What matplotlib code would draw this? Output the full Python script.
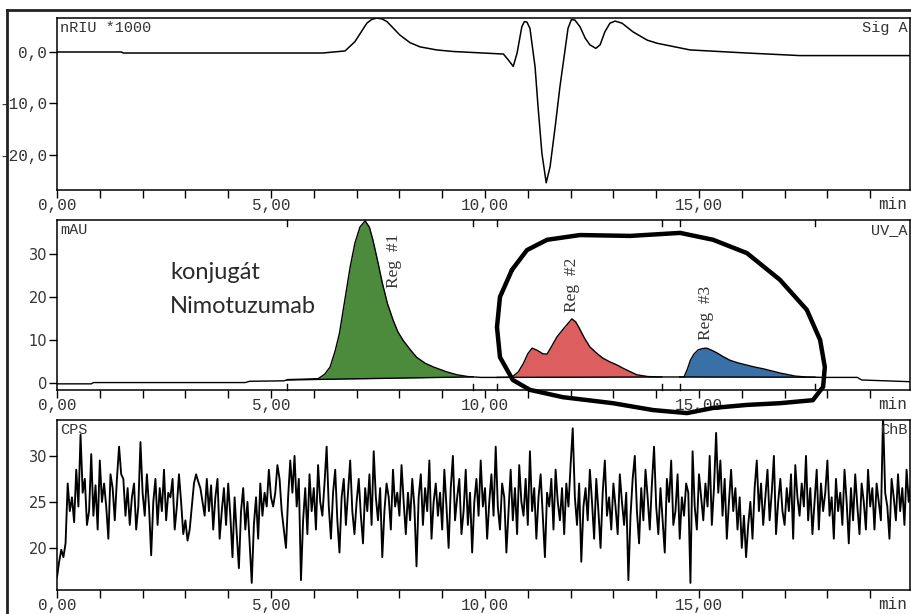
import numpy as np
import matplotlib
matplotlib.use("Agg")
import matplotlib.pyplot as plt
from matplotlib.lines import Line2D
from matplotlib.ticker import MultipleLocator
import matplotlib.transforms as mtransforms

# refractive index detector (min, nRIU*1000)
ri_time = [0.0, 1.5, 1.55, 4.0, 6.2, 6.73, 6.96, 7.24, 7.35, 7.47, 7.6, 7.71, 8.01, 8.25, 8.48,
           8.87, 9.25, 9.72, 10.43, 10.55, 10.66, 10.75, 10.86, 10.92, 10.98, 11.05, 11.17,
           11.24, 11.33, 11.43, 11.52, 11.64, 11.75, 11.87, 11.94, 12.02, 12.1, 12.22,
           12.34, 12.45, 12.59, 12.69, 12.8, 12.92, 13.04, 13.2, 13.46, 13.79, 14.02,
           14.79, 16.12, 17.36, 19.93]
ri_signal = [0.0, 0.0, -0.2, -0.2, -0.2, 0.2, 2.0, 5.6, 6.3, 6.6, 6.4, 5.9, 3.3, 1.8, 1.0,
             0.4, 0.1, -0.1, -0.4, -1.6, -2.8, -0.2, 4.9, 5.9, 5.8, 4.6, -2.9,
             -10.7, -19.7, -25.4, -22.3, -14.5, -6.8, 0.4, 4.6, 6.3, 6.2, 4.9,
             2.7, 1.4, 0.7, 1.4, 3.9, 5.6, 6.0, 5.6, 3.9, 2.3, 1.7,
             0.4, -0.2, -0.7, -0.7]

# UV detector (min, mAU)
uv_time = [0.0, 0.8, 0.85, 4.4, 4.5, 5.3, 5.4, 5.8, 6.1, 6.25,
           6.38, 6.5, 6.6, 6.72, 6.85, 6.96, 7.08, 7.2, 7.3, 7.38,
           7.5, 7.6, 7.72, 7.85, 7.96, 8.08, 8.25, 8.4, 8.6, 8.8,
           9.1, 9.35, 9.6, 9.9, 10.3, 10.63, 10.78, 10.9, 11.0, 11.1,
           11.22, 11.35, 11.45, 11.55, 11.68, 11.85, 12.03, 12.12, 12.2, 12.32,
           12.45, 12.6, 12.75, 12.9, 13.08, 13.25, 13.4, 13.55, 13.8, 14.1,
           14.65, 14.72, 14.8, 14.88, 14.98, 15.08, 15.18, 15.3, 15.42, 15.55,
           15.72, 15.9, 16.1, 16.3, 16.5, 16.7, 16.9, 17.1, 17.25, 17.5,
           17.9, 18.7, 18.8, 19.93]
uv_signal = [-0.2, -0.2, 0.1, 0.1, 0.4, 0.5, 0.8, 0.9, 1.0, 2.0,
             3.7, 7.5, 11.6, 19.0, 27.0, 32.5, 36.3, 37.7, 36.2, 33.3,
             28.0, 23.3, 18.5, 14.7, 12.0, 10.0, 7.8, 6.0, 4.6, 3.7,
             2.6, 1.9, 1.5, 1.3, 1.3, 1.35, 2.6, 4.6, 6.8, 8.1,
             7.6, 6.8, 6.7, 8.4, 10.7, 12.8, 14.9, 14.2, 12.8, 10.5,
             8.4, 7.0, 5.8, 5.0, 4.2, 3.3, 2.6, 1.9, 1.5, 1.4,
             1.4, 3.0, 5.3, 6.7, 7.7, 8.0, 8.1, 7.6, 7.0, 6.2,
             5.3, 4.7, 4.2, 3.7, 3.3, 2.8, 2.3, 1.9, 1.6, 1.4,
             1.3, 1.3, 0.7, 0.3]

# integration regions
reg_names = ["Reg  #1", "Reg  #2", "Reg  #3"]
reg_start = [5.37, 10.28, 14.55]
reg_end = [9.72, 14.13, 17.71]
reg_colors = ["#4b8b3b", "#dd5e5e", "#3a70a8"]
reg_label_x = [7.87, 12.03, 15.16]
reg_label_y = [22.1, 16.5, 10.0]

# radio detector, one reading every 0.05 min (CPS)
cps_step = 0.05
cps_signal = [
    16.8, 18.5, 19.8, 19.0, 20.5, 27.0, 24.0, 25.5, 22.8, 28.5, 24.5, 32.3, 26.0, 27.5, 22.5, 24.0, 30.2, 23.5, 26.8, 22.0,
    29.5, 25.0, 27.0, 24.5, 21.0, 28.0, 26.5, 23.0, 27.5, 31.0, 28.0, 27.5, 23.5, 26.5, 22.5, 25.5, 27.0, 22.0, 24.5, 31.5,
    26.0, 23.5, 28.0, 24.5, 19.2, 25.0, 27.5, 22.5, 26.5, 24.0, 28.5, 23.0, 26.0, 25.5, 27.5, 22.0, 24.5, 28.0, 25.0, 21.5,
    23.0, 20.8, 22.0, 24.5, 27.0, 28.0, 27.2, 26.5, 25.0, 23.5, 27.5, 24.0, 26.8, 22.0, 25.5, 27.5, 21.0, 24.0, 26.5, 22.5,
    27.0, 23.5, 19.0, 25.5, 21.5, 17.8, 24.0, 26.5, 22.0, 25.0, 20.5, 16.2, 22.5, 25.5, 21.0, 27.0, 23.5, 26.0, 24.5, 28.5,
    25.5, 24.5, 26.0, 29.0, 27.5, 24.0, 22.0, 20.0, 25.5, 29.5, 26.0, 30.0, 24.5, 27.5, 16.5, 23.0, 26.5, 21.5, 28.0, 24.0,
    26.5, 22.0, 29.0, 25.0, 23.5, 27.0, 31.0, 24.5, 21.0, 26.0, 28.5, 23.0, 19.5, 25.5, 27.5, 22.5, 26.0, 29.5, 24.0, 21.5,
    25.0, 27.5, 23.5, 20.5, 26.5, 24.0, 28.0, 22.5, 30.5, 25.5, 23.0, 26.5, 19.0, 24.0, 27.0, 25.5, 22.0, 28.5, 24.5, 26.0,
    23.5, 29.0, 25.0, 21.5, 26.0, 23.0, 27.5, 24.5, 18.0, 25.5, 28.0, 22.5, 26.5, 24.0, 29.5, 21.0, 25.0, 27.0, 23.5, 26.0,
    22.0, 28.5, 24.5, 20.0, 26.5, 30.0, 23.0, 25.5, 27.5, 21.5, 24.0, 28.5, 22.5, 26.0, 19.5, 25.0, 27.5, 23.5, 29.5, 24.5,
    26.5, 21.0, 25.0, 28.0, 23.5, 31.0, 24.5, 22.0, 27.0, 25.5, 19.5, 24.0, 28.5, 23.0, 26.5, 21.5, 29.0, 25.0, 23.5, 27.5,
    22.5, 30.5, 24.0, 26.5, 21.0, 25.5, 28.0, 23.5, 19.0, 26.0, 24.5, 27.5, 22.0, 28.5, 25.0, 23.0, 26.5, 21.5, 27.0, 24.5,
    29.0, 33.0, 25.5, 22.5, 27.0, 18.5, 24.5, 26.5, 23.0, 28.5, 25.0, 21.0, 27.5, 24.0, 20.0, 26.0, 29.5, 23.5, 25.5, 22.0,
    27.0, 24.5, 21.5, 28.0, 25.0, 22.5, 26.0, 16.5, 23.5, 27.5, 30.0, 24.0, 20.5, 26.5, 23.0, 28.5, 25.5, 22.0, 27.0, 31.0,
    24.5, 21.5, 26.5, 23.0, 19.5, 27.5, 25.0, 29.5, 22.5, 24.0, 28.0, 21.0, 25.5, 23.5, 27.0, 26.0, 16.2, 30.5, 24.5, 22.0,
    28.0, 25.5, 23.0, 27.0, 24.5, 30.0, 22.5, 26.5, 32.5, 26.0, 29.5, 23.5, 27.5, 21.0, 25.0, 28.5, 24.0, 26.5, 22.0, 25.5,
    20.0, 23.5, 19.0, 22.5, 25.0, 21.0, 26.5, 29.5, 24.0, 27.0, 22.5, 25.5, 28.5, 23.0, 26.0, 30.0, 21.5, 25.0, 27.5, 24.0,
    22.5, 26.5, 24.0, 28.0, 21.0, 29.0, 25.5, 23.5, 27.0, 24.5, 30.0, 23.0, 26.5, 21.5, 25.0, 28.5, 22.0, 27.0, 24.0, 26.0,
    29.5, 23.5, 25.5, 21.0, 27.5, 24.0, 26.0, 22.5, 28.5, 25.0, 20.5, 26.5, 23.0, 28.0, 24.5, 21.5, 27.0, 25.0, 22.0, 28.5,
    24.5, 26.5, 22.0, 27.0, 25.0, 23.0, 34.5, 26.0, 24.5, 21.0, 27.5, 25.5, 23.0, 28.0, 24.0, 26.5, 22.5, 28.5, 25.0, 27.0,
]
cps_time = np.arange(len(cps_signal)) * cps_step

x_ticks = [0, 5, 10, 15]
x_labels = ["0,00", "5,00", "10,00", "15,00"]
ri_ticks = [0, -10, -20]
ri_labels = ["0,0", "-10,0", "-20,0"]
uv_ticks = [0, 10, 20, 30]
cps_ticks = [20, 25, 30]

# hand drawn outline around the conjugate peaks (min, mAU)
loop_t = [10.63, 10.98, 11.45, 12.22, 13.39, 14.56, 15.33, 16.12, 16.89, 17.52,
          17.83, 17.94, 17.90, 17.66, 16.89, 16.12, 15.33, 14.72, 13.93, 12.99,
          11.82, 11.05, 10.65, 10.35, 10.28, 10.35, 10.63]
loop_v = [26.3, 30.9, 33.3, 34.4, 34.2, 34.9, 33.3, 30.2, 24.0, 17.0,
          10.0, 3.7, -0.9, -4.0, -4.7, -5.1, -5.8, -7.0, -6.3, -4.7,
          -3.3, -1.6, 0.7, 6.0, 13.0, 20.0, 26.3]

MONO = "Liberation Mono"
TXT = "#333333"
W, H = 912, 614
fig = plt.figure(figsize=(W / 100, H / 100), dpi=100)


def panel(top, bottom):
    return fig.add_axes([57 / W, 1 - bottom / H, 853 / W, (bottom - top) / H])


def style(ax, ylim, yticks, ylabels, yfont, yfs, left, right):
    ax.set_xlim(0, 19.93)
    ax.set_ylim(*ylim)
    ax.set_xticks(x_ticks, x_labels)
    ax.xaxis.set_minor_locator(MultipleLocator(1))
    ax.set_yticks(yticks, ylabels)
    ax.tick_params(axis="x", which="both", direction="out", length=6, width=1,
                   pad=0, labelsize=11.5, labelcolor=TXT)
    ax.tick_params(axis="y", direction="out", length=6, width=1, pad=1,
                   labelsize=yfs, labelcolor=TXT)
    for lab in ax.get_xticklabels():
        lab.set_family(MONO)
    for lab in ax.get_yticklabels():
        lab.set_family(yfont)
    for s in ax.spines.values():
        s.set_linewidth(1.1)
    ax.annotate("min", xy=(1, 0), xycoords="axes fraction", xytext=(-3, -7),
                textcoords="offset pixels", ha="right", va="top",
                family=MONO, fontsize=11.5, color=TXT)
    ax.text(0.004, 0.985, left, transform=ax.transAxes, ha="left", va="top",
            family=MONO, fontsize=11, color=TXT)
    ax.text(0.997, 0.985, right, transform=ax.transAxes, ha="right", va="top",
            family=MONO, fontsize=11, color=TXT)


# refractive index
ax1 = panel(18, 190)
ax1.plot(ri_time, ri_signal, color="black", lw=1.1)
style(ax1, (-26.8, 6.6), ri_ticks, ri_labels, MONO, 11.5, "nRIU *1000", "Sig A")

# UV with shaded integration regions
ax2 = panel(220, 390)
t = np.array(uv_time)
v = np.array(uv_signal)
for s, e, c in zip(reg_start, reg_end, reg_colors):
    ends = np.interp([s, e], t, v)
    base = np.interp(t, [s, e], ends)
    mask = (t >= s) & (t <= e)
    ax2.fill_between(t, base, v, where=mask, color=c, lw=0, interpolate=True)
    ax2.plot([s, e], ends, color="black", lw=1.0)
ax2.plot(t, v, color="black", lw=1.0)
blend = mtransforms.blended_transform_factory(ax2.transData, ax2.transAxes)
for s, e in zip(reg_start, reg_end):
    for x in (s, e):
        ax2.plot([x, x], [0, 0.035], color="black", lw=1, transform=blend, clip_on=False)
        ax2.plot([x, x], [0.965, 1], color="black", lw=1, transform=blend, clip_on=False)
for name, x, y in zip(reg_names, reg_label_x, reg_label_y):
    ax2.text(x, y, name, rotation=90, ha="center", va="bottom",
             family="Liberation Serif", fontsize=12.5, color=TXT)
ax2.text(2.64, 25.8, "konjugát", ha="left", va="center",
         family="Lato", fontsize=17, color="#2a2a2a")
ax2.text(2.64, 17.9, "Nimotuzumab", ha="left", va="center",
         family="Lato", fontsize=17, color="#2a2a2a")
ax2.plot(loop_t, loop_v, color="black", lw=3.2, solid_joinstyle="round",
         solid_capstyle="round", clip_on=False, zorder=5)
style(ax2, (-1.63, 37.9), uv_ticks, [str(x) for x in uv_ticks], "DejaVu Sans", 10.5, "mAU", "UV_A")

# radio detector
ax3 = panel(420, 590)
ax3.plot(cps_time, cps_signal, color="black", lw=1.35)
style(ax3, (15.43, 33.9), cps_ticks, [str(x) for x in cps_ticks], "DejaVu Sans", 10.5, "CPS", "ChB")

# screenshot frame, left and top edges
fig.add_artist(Line2D([7 / W, 7 / W], [0, 1 - 10 / H], color="#222222", lw=2))
fig.add_artist(Line2D([7 / W, 1], [1 - 10 / H, 1 - 10 / H], color="#222222", lw=2))

fig.savefig("out.png", dpi=100)
